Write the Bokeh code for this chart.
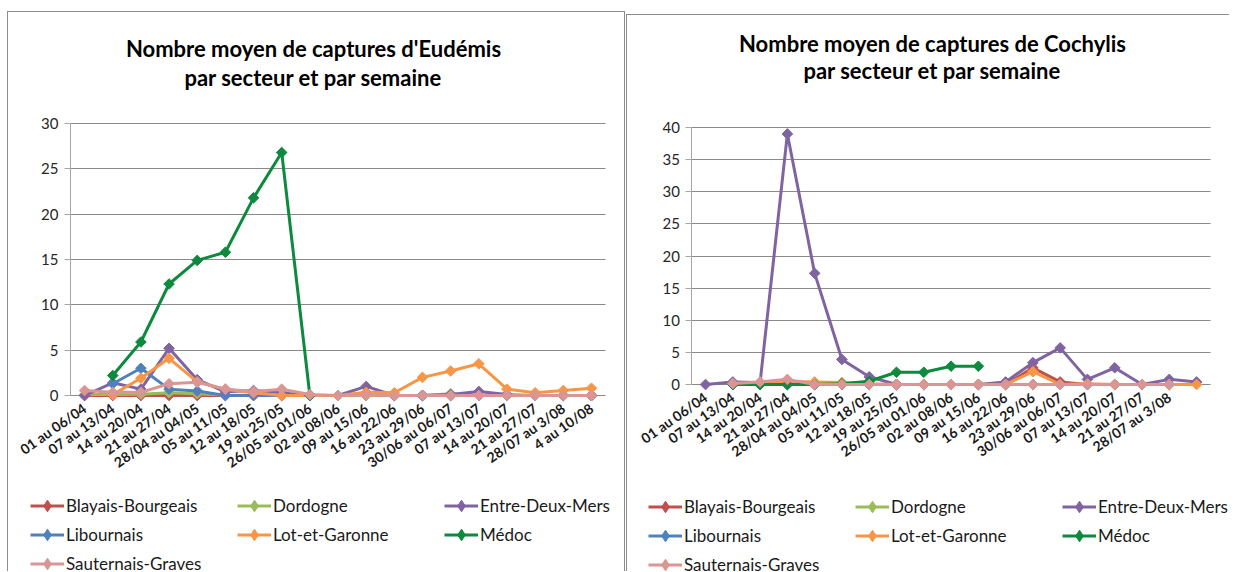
import math
from bokeh.plotting import figure
from bokeh.models import Range1d, Legend, LegendItem, Label, FixedTicker
from bokeh.layouts import row
from bokeh.embed import file_html
from bokeh.resources import INLINE

nan = float("nan")

# ---------------- data ----------------
weeks_eudemis = ["01 au 06/04", "07 au 13/04", "14 au 20/04", "21 au 27/04", "28/04 au 04/05",
                 "05 au 11/05", "12 au 18/05", "19 au 25/05", "26/05 au 01/06", "02 au 08/06",
                 "09 au 15/06", "16 au 22/06", "23 au 29/06", "30/06 au 06/07", "07 au 13/07",
                 "14 au 20/07", "21 au 27/07", "28/07 au 3/08", "4 au 10/08"]
weeks_cochylis = ["01 au 06/04", "07 au 13/04", "14 au 20/04", "21 au 27/04", "28/04 au 04/05",
                  "05 au 11/05", "12 au 18/05", "19 au 25/05", "26/05 au 01/06", "02 au 08/06",
                  "09 au 15/06", "16 au 22/06", "23 au 29/06", "30/06 au 06/07", "07 au 13/07",
                  "14 au 20/07", "21 au 27/07", "28/07 au 3/08", ""]

sectors = ["Blayais-Bourgeais", "Dordogne", "Entre-Deux-Mers", "Libournais",
           "Lot-et-Garonne", "Médoc", "Sauternais-Graves"]
colors = ["#C0504D", "#9BBB59", "#8064A2", "#4F81BD", "#F79646", "#0E8A3E", "#D99694"]

# Eudémis
eud_blayais = [0, 0, 0, 0, 0, 0, 0, 0, 0, 0, 0, 0, 0, 0, 0, 0, 0, 0, 0]
eud_dordogne = [0.1, 0.1, 0.15, 0.3, 0.2, 0.05, 0, 0, 0, 0, 0, 0, 0, 0.2, 0, 0, 0, 0, 0]
eud_entre = [0, 1.4, 0.7, 5.2, 1.75, 0.4, 0.55, 0.3, 0, 0, 1.0, 0, 0, 0.1, 0.45, 0.1, 0, 0, 0]
eud_libournais = [nan, 1.3, 3.0, 0.7, 0.5, 0, 0, 0, 0, 0, 0, 0, 0, 0, 0, 0, 0, 0, 0]
eud_lot = [nan, 0.1, 1.9, 4.1, 1.5, 0.7, 0.3, 0, 0, 0, 0.35, 0.3, 2.0, 2.7, 3.5, 0.7, 0.3, 0.55, 0.8]
eud_medoc = [nan, 2.2, 5.9, 12.3, 14.9, 15.8, 21.8, 26.8, 0, nan, nan, nan, nan, nan, nan, nan, nan, nan, nan]
eud_sauternais = [0.55, 0.35, 0.35, 1.3, 1.45, 0.7, 0.45, 0.7, 0.1, 0, 0, 0, 0, 0, 0, 0, 0, 0, 0]

# Cochylis
coc_blayais = [nan, 0, 0, 0, 0, 0, 0, 0, 0, 0, 0, 0, 2.6, 0.4, 0, 0, 0, 0, nan]
coc_dordogne = [nan, 0, 0, 0, 0, 0, 0, 0, 0, 0, 0, 0, 0, 0, 0, 0, 0, 0, nan]
coc_entre = [0, 0.4, 0.3, 39.0, 17.3, 3.9, 1.2, 0, 0, 0, 0, 0.4, 3.4, 5.7, 0.8, 2.6, 0, 0.8, 0.4]
coc_libournais = [nan, 0, 0, 0, 0, 0, 0, 0, 0, 0, 0, 0, 0, 0, 0, 0, 0, 0, nan]
coc_lot = [nan, 0.1, 0.2, 0.5, 0.4, 0.3, 0.1, 0, 0, 0, 0, 0, 2.0, 0, 0.1, 0, 0, 0, 0]
coc_medoc = [nan, 0, 0, 0, 0, 0.1, 0.5, 1.9, 1.9, 2.85, 2.85, nan, nan, nan, nan, nan, nan, nan, nan]
coc_sauternais = [nan, 0.15, 0.4, 0.8, 0, 0, 0, 0, 0, 0, 0, 0, 0, 0, 0, 0, 0, 0, nan]

eud_series = [eud_blayais, eud_dordogne, eud_entre, eud_libournais, eud_lot, eud_medoc, eud_sauternais]
coc_series = [coc_blayais, coc_dordogne, coc_entre, coc_libournais, coc_lot, coc_medoc, coc_sauternais]

FONT = "Lato"
GRID = "#8a8a8a"
BOX = "1px solid #8c8c8c"


def make_chart(labels, series, ymax, titles, geo, margin, right_border):
    # geo: content box (page px) and where the plot area sits inside it
    cx, cy, w, h = geo["box"]
    cat_left, cat_w = geo["cat_left"], geo["cat_w"]
    y0, ppu = geo["y0"], geo["ppu"]
    n = len(labels)
    xs = list(range(n))

    def vx(px):
        return (px - cat_left) / cat_w - 0.5

    def vy(py):
        return (y0 - py) / ppu

    p = figure(x_range=Range1d(vx(cx), vx(cx + w)), y_range=Range1d(vy(cy + h), vy(cy)),
               width=w, height=h, min_border=0,
               output_backend="svg", toolbar_location=None, title=None)
    p.outline_line_color = None
    p.xgrid.grid_line_color = None

    yticks = list(range(0, ymax + 1, 5))
    g = p.ygrid[0]
    if "cross_bounds" in g.properties():
        g.grid_line_color = GRID
        g.cross_bounds = (-0.5, n - 0.5)
        g.ticker = FixedTicker(ticks=yticks)
    else:
        g.grid_line_color = None
        p.segment(x0=-0.5, x1=n - 0.5, y0=yticks, y1=yticks, line_color=GRID, line_width=1)

    ya = p.yaxis[0]
    ya.fixed_location = -0.5
    ya.ticker = FixedTicker(ticks=yticks)
    ya.bounds = (0, ymax)
    ya.axis_line_color = "#a6a6a6"
    ya.major_tick_line_color = "#a6a6a6"
    ya.major_tick_out = 6
    ya.major_tick_in = 0
    ya.minor_tick_line_color = None
    ya.major_label_standoff = 6
    ya.major_label_text_font = FONT
    ya.major_label_text_font_size = "15px"
    ya.major_label_text_color = "#262626"

    xa = p.xaxis[0]
    xa.fixed_location = 0
    xa.ticker = FixedTicker(ticks=xs)
    xa.major_label_overrides = {i: lab for i, lab in enumerate(labels)}
    xa.axis_line_color = None
    xa.major_tick_line_color = None
    xa.minor_tick_line_color = None
    xa.major_label_orientation = math.radians(35)
    xa.major_label_standoff = 5
    xa.major_label_text_font = FONT
    xa.major_label_text_font_style = "bold"
    xa.major_label_text_font_size = "14px"
    xa.major_label_text_color = "#1a1a1a"

    items = []
    for name, vals, col in zip(sectors, series, colors):
        ln = p.line(x=xs, y=vals, line_color=col, line_width=3)
        p.scatter(x=xs, y=vals, marker="square", angle=math.pi / 4, size=7.5,
                  fill_color=col, line_color=col)
        # hidden twin used only to draw the diamond in the legend key
        key = p.scatter(x=xs, y=vals, marker="diamond", size=11, fill_color=col,
                        line_color=col, visible=False)
        items.append(LegendItem(label=name, renderers=[ln, key]))

    lx, ltop = geo["legend"]
    legend = Legend(items=items, orientation="horizontal", ncols=3,
                    location=(lx - cx, (cy + h) - (ltop + 3 * 29)),
                    glyph_width=34, glyph_height=29, label_height=29, label_width=171,
                    label_standoff=2, spacing=0, padding=0, margin=0,
                    border_line_color=None, background_fill_alpha=0,
                    inactive_fill_alpha=0,
                    label_text_font=FONT, label_text_font_size="17px",
                    label_text_color="#1a1a1a", label_text_baseline="middle")
    p.add_layout(legend, "center")

    tx, ty1, ty2 = geo["title"]
    for txt, ty in zip(titles, (ty1, ty2)):
        p.add_layout(Label(x=vx(tx), y=vy(ty), text=txt,
                           text_align="center", text_baseline="middle", text_font=FONT,
                           text_font_style="bold", text_font_size="22px", text_color="#000000"))

    st = {"border-top": BOX, "border-left": BOX}
    if right_border:
        st["border-right"] = BOX
    p.styles = st
    p.margin = margin
    return p


geo1 = {"box": (8, 12, 618, 560), "cat_left": 70, "cat_w": 28.16, "y0": 395, "ppu": 272 / 30,
        "legend": (30, 491), "title": (313, 48, 77)}
geo2 = {"box": (629, 15, 603, 557), "cat_left": 693.4, "cat_w": 27.28, "y0": 384, "ppu": 257 / 40,
        "legend": (650, 492), "title": (934, 43, 70)}

p1 = make_chart(weeks_eudemis, eud_series, 30,
                ["Nombre moyen de captures d'Eudémis", "par secteur et par semaine"],
                geo1, (11, 0, 0, 7), True)
p2 = make_chart(weeks_cochylis, coc_series, 40,
                ["Nombre moyen de captures de Cochylis", "par secteur et par semaine"],
                geo2, (14, 0, 0, 1), False)

layout = row(p1, p2, spacing=0)
open("out.html", "w").write(file_html(layout, INLINE))
